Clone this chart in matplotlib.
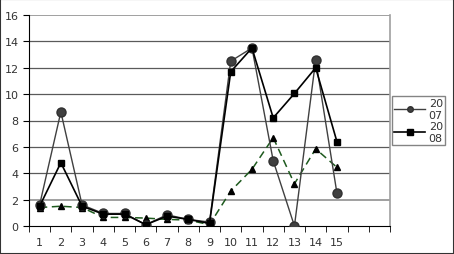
import matplotlib
matplotlib.use("Agg")
import matplotlib.pyplot as plt
from matplotlib.patches import Rectangle

categories = [str(i) for i in range(1, 16)] + ["", ""]
s2007 = [1.6, 8.65, 1.6, 0.95, 0.95, 0.1, 0.85, 0.5, 0.3, 12.5, 13.5, 4.95, 0.0, 12.6, 2.5]
s2008 = [1.5, 4.8, 1.5, 0.9, 0.9, 0.1, 0.75, 0.5, 0.2, 11.7, 13.5, 8.2, 10.05, 12.0, 6.4]
s_other = [1.4, 1.5, 1.4, 0.65, 0.65, 0.6, 0.5, 0.45, 0.1, 2.65, 4.3, 6.7, 3.2, 5.85, 4.45]
legend_labels = ["20\n07", "20\n08"]

fig = plt.figure(figsize=(4.54, 2.55), dpi=100)
ax = fig.add_axes([29/454, 1-227/255, (390-29)/454, (227-16)/255])

x = list(range(len(s2007)))

# gridlines
for yv in range(2, 17, 2):
    ax.axhline(yv, color="#5a5a5a" if yv not in (2, 16) else "#a0a0a0", lw=0.9 if yv not in (2, 16) else 1.4, zorder=0)

ax.plot(x, s_other, color="#1e5a1e", ls=(0, (5, 3)), lw=1.1, marker="^", ms=4,
        mfc="black", mec="black", zorder=2)
l1, = ax.plot(x, s2007, color="#404040", lw=1.0, marker="o", ms=6.5,
              mfc="#404040", mec="#303030", zorder=3)
l2, = ax.plot(x, s2008, color="black", lw=1.2, marker="s", ms=4,
              mfc="black", mec="black", zorder=4)

ax.set_xlim(-0.5, len(categories) - 0.5)
ax.set_ylim(0, 16)
ax.set_yticks(range(0, 17, 2))
ax.set_xticks(range(len(categories)))
ax.set_xticklabels(categories)
ax.set_xticks([i - 0.5 for i in range(len(categories) + 1)], minor=True)
ax.tick_params(axis="x", which="major", length=0, labelsize=8, colors="#333333", pad=8)
ax.tick_params(axis="x", which="minor", length=4, color="black", direction="out")
ax.tick_params(axis="y", length=4, labelsize=8, colors="#333333", direction="out")
ax.tick_params(axis="y", colors="black", labelcolor="#333333")

ax.spines["top"].set_visible(False)
ax.spines["right"].set_color("#a0a0a0")
ax.spines["right"].set_linewidth(1.2)
ax.spines["left"].set_color("black")
ax.spines["bottom"].set_color("black")

leg = fig.legend([l1, l2], legend_labels, loc="upper left",
                 bbox_to_anchor=(392/454, 1-97/255), fontsize=8,
                 frameon=True, fancybox=False, handlelength=2.8,
                 handletextpad=0.3, borderpad=0.2, labelspacing=0.1,
                 borderaxespad=0)
leg.get_frame().set_edgecolor("#666666")
leg.get_frame().set_linewidth(1.0)
for t in leg.get_texts():
    t.set_color("#333333")
for h in leg.legend_handles:
    h.set_markersize(4)

fig.patches.append(Rectangle((0, 0), 1, 1, transform=fig.transFigure,
                             fill=False, edgecolor="#333333", lw=1.5))

fig.savefig("out.png", dpi=100)
